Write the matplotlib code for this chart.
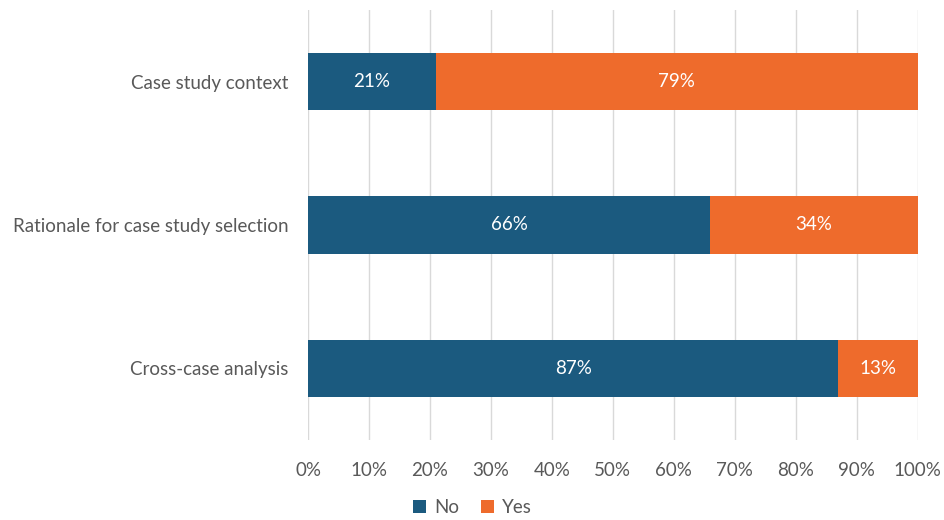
import matplotlib.pyplot as plt
import numpy as np

categories = ["Case study context", "Rationale for case study selection", "Cross-case analysis"]
no_vals = [21, 66, 87]
yes_vals = [79, 34, 13]
ticks = [0, 10, 20, 30, 40, 50, 60, 70, 80, 90, 100]

plt.rcParams['font.family'] = ['Lato', 'DejaVu Sans']

fig = plt.figure(figsize=(9.45, 5.2), dpi=100)
ax = fig.add_axes([0.326, 0.154, 0.645, 0.827])

y = np.arange(len(categories))
blue = "#1b5a7f"
orange = "#ee6b2c"
ax.barh(y, no_vals, height=0.4, color=blue, label="No", zorder=3)
ax.barh(y, yes_vals, left=no_vals, height=0.4, color=orange, label="Yes", zorder=3)

for i in range(len(categories)):
    ax.text(no_vals[i] / 2, y[i], f"{no_vals[i]}%", ha="center", va="center",
            color="white", fontsize=13.5, zorder=4)
    ax.text(no_vals[i] + yes_vals[i] / 2, y[i], f"{yes_vals[i]}%", ha="center", va="center",
            color="white", fontsize=13.5, zorder=4)

ax.set_xlim(0, 100)
ax.set_ylim(2.5, -0.5)
ax.set_yticks(y)
ax.set_yticklabels(categories)
ax.set_xticks(ticks)
ax.set_xticklabels([f"{t}%" for t in ticks])
ax.tick_params(axis="both", length=0, labelsize=13.5, colors="#595959")
ax.tick_params(axis="x", pad=16)
ax.tick_params(axis="y", pad=14)
ax.grid(axis="x", color="#d9d9d9", linewidth=1, zorder=0)
for s in ax.spines.values():
    s.set_visible(False)

fig.legend(loc="lower center", bbox_to_anchor=(0.5, -0.025), ncol=2, frameon=False,
           fontsize=13.5, handlelength=0.7, handleheight=0.7, handletextpad=0.4,
           columnspacing=1.2, labelcolor="#595959")

fig.savefig("out.png", dpi=100)
